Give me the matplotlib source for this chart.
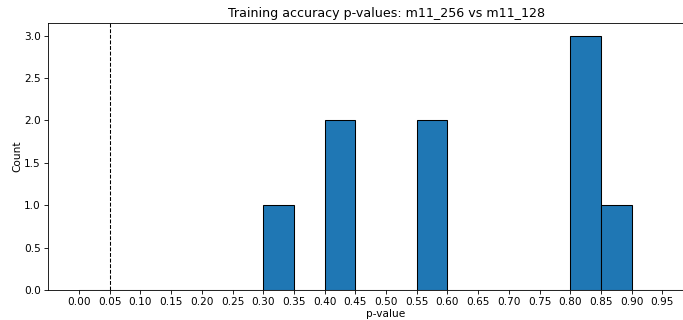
import numpy as np
import matplotlib
matplotlib.use("Agg")
import matplotlib.pyplot as plt

# histogram bins of width 0.05 and the counts
bin_edges = np.round(np.arange(0, 1.0001, 0.05), 2)
counts = [0, 0, 0, 0, 0, 0, 1, 0, 2, 0, 0, 2, 0, 0, 0, 0, 3, 1, 0, 0]
tick_vals = np.round(np.arange(0, 0.96, 0.05), 2)
alpha_line = 0.05

s = 0.76  # reference looks like a downscaled render
plt.rcParams.update({
    "font.size": 10 * s,
    "axes.linewidth": 0.8 * s,
    "xtick.major.size": 3.5 * s,
    "ytick.major.size": 3.5 * s,
    "xtick.major.width": 0.8 * s,
    "ytick.major.width": 0.8 * s,
    "xtick.major.pad": 3.5 * s,
    "ytick.major.pad": 3.5 * s,
    "axes.titlepad": 6 * s,
})

fig = plt.figure(figsize=(6.83, 3.2), dpi=100)
ax = fig.add_axes([48.3 / 683, 30 / 320, 675.4 / 683, 267 / 320])

ax.hist(bin_edges[:-1], bins=bin_edges, weights=counts,
        color="#1f77b4", edgecolor="black", linewidth=1 * s)
ax.axvline(alpha_line, color="black", linestyle="--", linewidth=1 * s)

ax.set_xticks(tick_vals)
ax.set_xticklabels([f"{v:.2f}" for v in tick_vals])
ax.set_title("Training accuracy p-values: m11_256 vs m11_128")
ax.set_xlabel("p-value", labelpad=1)
ax.set_ylabel("Count", labelpad=1)

fig.savefig("out.png", dpi=100)
